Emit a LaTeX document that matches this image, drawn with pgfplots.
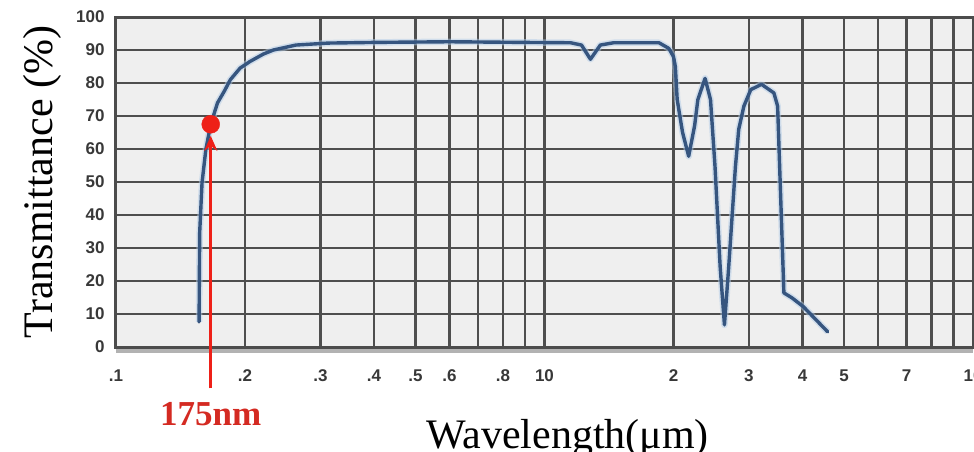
\documentclass[border=0pt]{standalone}
\usepackage{fontspec}
\setmainfont{Liberation Serif}
\newfontfamily\tickfont{Liberation Sans}
\usepackage{pgfplots}
\pgfplotsset{compat=1.18}
\usetikzlibrary{arrows.meta}
\definecolor{curvec}{HTML}{36557F}
\definecolor{haloc}{HTML}{B3CDE8}
\definecolor{gridc}{HTML}{4E4E4E}
\definecolor{bgc}{HTML}{EFEFEF}
\definecolor{redc}{HTML}{EE2018}
\definecolor{labred}{HTML}{D42A22}
\begin{document}
\begin{tikzpicture}
\begin{axis}[name=ax,
  xmode=log, scale only axis, width=857pt, height=330pt,
  xmin=0.1, xmax=10, ymin=0, ymax=100,
  xtick={0.1,0.2,0.3,0.4,0.5,0.6,0.7,0.8,0.9,1,2,3,4,5,6,7,8,9,10},
  xticklabels={.1,.2,.3,.4,.5,.6,,.8,,10,2,3,4,5,,7,,,10},
  ytick={0,10,...,100},
  /pgf/number format/assume math mode=true,
  grid=major,
  grid style={gridc, line width=2.4pt},
  major tick length=0pt,
  axis line style={black!70, line width=3pt},
  axis background/.style={fill=bgc},
  tick label style={font=\tickfont\bfseries\fontsize{17}{19}\selectfont, text=black!78},
  yticklabel style={xshift=-8pt},
  xticklabel style={yshift=-19pt},
  clip=false,
]
\draw[black!30, line width=4pt] ([yshift=-4pt]rel axis cs:0,0) -- ([yshift=-4pt]rel axis cs:1,0);
\addplot[haloc, line width=6.5pt, line join=round, opacity=0.5] table {
x y
0.1563 7.6
0.1565 20
0.1568 34.7
0.1588 49.8
0.1621 59.9
0.1664 67.5
0.1726 74
0.1791 77.6
0.1849 81
0.1948 84.5
0.2053 86.5
0.221 88.8
0.233 90
0.263 91.5
0.313 92.1
0.4 92.3
0.6 92.5
0.9 92.3
1.15 92.2
1.22 91.5
1.28 87.2
1.35 91.5
1.45 92.2
1.85 92.2
1.95 90.5
2.0 88
2.02 85
2.04 75
2.10 65
2.17 57.8
2.24 67
2.28 75
2.37 81.4
2.44 75
2.50 54.7
2.57 24.3
2.63 6.7
2.69 24
2.79 54.7
2.84 66
2.92 73
3.03 78
3.21 79.6
3.43 77
3.50 73
3.62 16.4
3.78 14.9
4.02 12.2
4.58 4.6
};
\addplot[curvec, line width=3.4pt, line join=round, line cap=round] table {
x y
0.1563 7.6
0.1565 20
0.1568 34.7
0.1588 49.8
0.1621 59.9
0.1664 67.5
0.1726 74
0.1791 77.6
0.1849 81
0.1948 84.5
0.2053 86.5
0.221 88.8
0.233 90
0.263 91.5
0.313 92.1
0.4 92.3
0.6 92.5
0.9 92.3
1.15 92.2
1.22 91.5
1.28 87.2
1.35 91.5
1.45 92.2
1.85 92.2
1.95 90.5
2.0 88
2.02 85
2.04 75
2.10 65
2.17 57.8
2.24 67
2.28 75
2.37 81.4
2.44 75
2.50 54.7
2.57 24.3
2.63 6.7
2.69 24
2.79 54.7
2.84 66
2.92 73
3.03 78
3.21 79.6
3.43 77
3.50 73
3.62 16.4
3.78 14.9
4.02 12.2
4.58 4.6
};
\draw[redc, line width=3pt, -{Stealth[length=15pt,width=13pt]}] (axis cs:0.1664,-12.5) -- (axis cs:0.1664,64);
\addplot[only marks, mark=*, mark size=9pt, redc, mark options={draw=redc, fill=redc}] coordinates {(0.1664,67.5)};
\node[anchor=base, text=labred, font=\bfseries\fontsize{35}{40}\selectfont] at ([yshift=-78pt]axis cs:0.1664,0) {175nm};
\node[rotate=90, anchor=base, font=\fontsize{42}{48}\selectfont] at ([xshift=-63pt]rel axis cs:0,0.5) {Transmittance (\%)};
\node[anchor=base, font=\fontsize{42}{48}\selectfont] at ([xshift=23pt,yshift=-101pt]rel axis cs:0.5,0) {Wavelength(μm)};
\end{axis}
\pgfresetboundingbox
\useasboundingbox ([xshift=-116pt,yshift=-104pt]ax.south west) rectangle ([xshift=858pt,yshift=347pt]ax.south west);
\end{tikzpicture}
\end{document}
